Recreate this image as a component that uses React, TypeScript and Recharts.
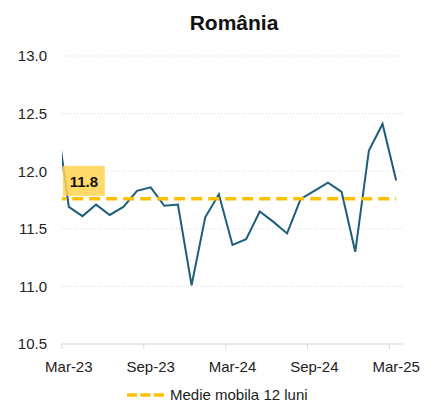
import React from "react";
import { LineChart, Line, XAxis, YAxis, CartesianGrid } from "recharts";

// Feb-23 is only there so the line enters from the left edge, like the original
const months = [
  "Feb-23", "Mar-23", "Apr-23", "May-23", "Jun-23", "Jul-23", "Aug-23", "Sep-23",
  "Oct-23", "Nov-23", "Dec-23", "Jan-24", "Feb-24", "Mar-24", "Apr-24", "May-24",
  "Jun-24", "Jul-24", "Aug-24", "Sep-24", "Oct-24", "Nov-24", "Dec-24", "Jan-25",
  "Feb-25", "Mar-25",
];
const rate = [
  12.55, 11.69, 11.61, 11.71, 11.62, 11.69, 11.83, 11.86, 11.7, 11.71, 11.01, 11.6,
  11.8, 11.36, 11.41, 11.65, 11.56, 11.46, 11.76, 11.83, 11.9, 11.82, 11.3, 12.18,
  12.41, 11.92,
];
const movingAvg = 11.76;
const yTicks = [10.5, 11.0, 11.5, 12.0, 12.5, 13.0];
const xTicks = [1, 7, 13, 19, 25];

const data = months.map((m, i) => ({ i, month: m, rate: rate[i], avg: movingAvg }));

const W = 426;
const H = 403;
const M = { top: 56, right: 23, bottom: 0, left: 0 };
const Y_W = 62;
const X_H = 59;
const halfStep = (W - M.right - Y_W) / 25 / 2;

const FONT = "'Liberation Sans', Arial, sans-serif";
const TEXT = "#222";
const BLUE = "#1d5e7c";
const GOLD = "#ffc000";

function XTick({ x, y, payload }: any) {
  return (
    <g>
      <line x1={x - halfStep} x2={x - halfStep} y1={y} y2={y + 5} stroke="#d9d9d9" />
      <text x={x} y={y + 28} textAnchor="middle" fontSize={15} fill={TEXT} fontFamily={FONT}>
        {months[payload.value]}
      </text>
    </g>
  );
}

function AvgLabel({ x, y, index, value }: any) {
  if (index !== 1) return null;
  return (
    <g>
      <rect x={x - 6} y={y - 33} width={42} height={30} fill="#ffd451" fillOpacity={0.85} />
      <text x={x + 15} y={y - 12} textAnchor="middle" fontSize={15} fontWeight="bold" fill="#111" fontFamily={FONT}>
        {Number(value).toFixed(1)}
      </text>
    </g>
  );
}

export default function App() {
  return (
    <div style={{ position: "absolute", left: 0, top: 0, width: W, height: H, background: "#fff", fontFamily: FONT }}>
      <div
        style={{
          position: "absolute", left: 134, top: 11, width: 200, textAlign: "center",
          fontSize: 21, lineHeight: "24px", fontWeight: "bold", color: "#111",
        }}
      >
        România
      </div>
      <LineChart width={W} height={H} data={data} margin={M}>
        <CartesianGrid vertical={false} stroke="#d6d6d6" strokeDasharray="1 2" />
        <XAxis
          dataKey="i"
          type="number"
          domain={[0.5, 25.5]}
          allowDataOverflow
          ticks={xTicks}
          interval={0}
          height={X_H}
          tickLine={false}
          tickSize={0}
          tickMargin={0}
          axisLine={{ stroke: "#d9d9d9" }}
          tick={<XTick />}
        />
        <YAxis
          domain={[10.5, 13]}
          ticks={yTicks}
          width={Y_W}
          axisLine={false}
          tickLine={false}
          tickSize={0}
          tickMargin={15}
          tickFormatter={(v: number) => v.toFixed(1)}
          tick={{ fontSize: 15, fill: TEXT, fontFamily: FONT }}
        />
        <Line
          dataKey="rate"
          stroke={BLUE}
          strokeWidth={2}
          dot={false}
          isAnimationActive={false}
        />
        <Line
          dataKey="avg"
          stroke={GOLD}
          strokeWidth={3.5}
          strokeDasharray="11 6"
          dot={false}
          isAnimationActive={false}
          label={<AvgLabel />}
        />
      </LineChart>
      <div
        style={{
          position: "absolute", left: 127, top: 386, display: "flex", alignItems: "center",
          fontSize: 15, lineHeight: "18px", color: TEXT,
        }}
      >
        <svg width={37} height={4} style={{ marginRight: 6 }}>
          <line x1={0} x2={37} y1={2} y2={2} stroke={GOLD} strokeWidth={3.5} strokeDasharray="10 3.5" />
        </svg>
        Medie mobila 12 luni
      </div>
    </div>
  );
}
